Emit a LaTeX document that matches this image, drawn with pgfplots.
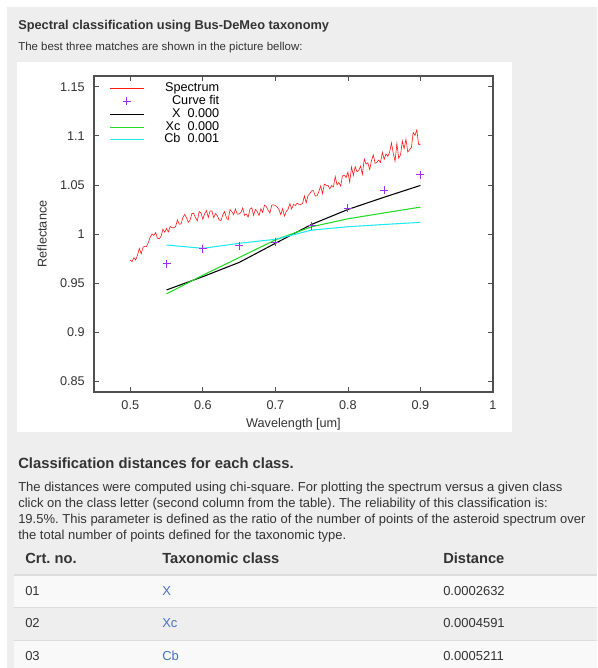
\documentclass[border=0pt]{standalone}
\usepackage{fontspec}
\setmainfont{Liberation Sans}
\usepackage{pgfplots}
\pgfplotsset{compat=1.18}
\frenchspacing
\definecolor{panel}{HTML}{EEEEEE}
\definecolor{txt}{HTML}{333333}
\definecolor{lnk}{HTML}{4A72C0}
\definecolor{rowlight}{HTML}{F9F9F9}
\definecolor{rulec}{HTML}{DDDDDD}
\definecolor{specc}{HTML}{FF1A1A}
\definecolor{fitc}{HTML}{9B30F0}
\definecolor{xcg}{HTML}{22DD22}
\definecolor{cbc}{HTML}{22E8F0}
\definecolor{framec}{HTML}{505050}

\pgfplotstableread{
x y
0.5000 0.9733
0.5025 0.9719
0.5050 0.9759
0.5075 0.9734
0.5100 0.9786
0.5125 0.9853
0.5150 0.9797
0.5175 0.9865
0.5200 0.9876
0.5225 0.9873
0.5250 0.9916
0.5275 0.9969
0.5300 1.0000
0.5325 0.9986
0.5350 1.0015
0.5375 0.9956
0.5400 0.9952
0.5425 0.9978
0.5450 1.0049
0.5475 1.0019
0.5500 1.0057
0.5525 1.0022
0.5550 1.0077
0.5575 1.0064
0.5600 1.0063
0.5625 1.0076
0.5650 1.0144
0.5675 1.0101
0.5700 1.0102
0.5725 1.0168
0.5750 1.0200
0.5775 1.0166
0.5800 1.0120
0.5825 1.0142
0.5850 1.0209
0.5875 1.0209
0.5900 1.0164
0.5925 1.0136
0.5950 1.0230
0.5975 1.0213
0.6000 1.0151
0.6025 1.0206
0.6050 1.0238
0.6075 1.0169
0.6100 1.0235
0.6125 1.0234
0.6150 1.0166
0.6175 1.0209
0.6200 1.0186
0.6225 1.0144
0.6250 1.0135
0.6275 1.0193
0.6300 1.0229
0.6325 1.0165
0.6350 1.0145
0.6375 1.0248
0.6400 1.0228
0.6425 1.0197
0.6450 1.0255
0.6475 1.0202
0.6500 1.0204
0.6525 1.0219
0.6550 1.0265
0.6575 1.0190
0.6600 1.0203
0.6625 1.0173
0.6650 1.0253
0.6675 1.0267
0.6700 1.0191
0.6725 1.0250
0.6750 1.0229
0.6775 1.0188
0.6800 1.0257
0.6825 1.0220
0.6850 1.0294
0.6875 1.0280
0.6900 1.0242
0.6925 1.0213
0.6950 1.0294
0.6975 1.0298
0.7000 1.0290
0.7025 1.0274
0.7050 1.0247
0.7075 1.0197
0.7100 1.0259
0.7125 1.0183
0.7150 1.0228
0.7175 1.0252
0.7200 1.0309
0.7225 1.0255
0.7250 1.0301
0.7275 1.0291
0.7300 1.0314
0.7325 1.0302
0.7350 1.0301
0.7375 1.0311
0.7400 1.0388
0.7425 1.0318
0.7450 1.0392
0.7475 1.0411
0.7500 1.0440
0.7525 1.0442
0.7550 1.0387
0.7575 1.0389
0.7600 1.0434
0.7625 1.0489
0.7650 1.0410
0.7675 1.0509
0.7700 1.0497
0.7725 1.0496
0.7750 1.0461
0.7775 1.0493
0.7800 1.0480
0.7825 1.0586
0.7850 1.0500
0.7875 1.0526
0.7900 1.0488
0.7925 1.0592
0.7950 1.0599
0.7975 1.0575
0.8000 1.0630
0.8025 1.0528
0.8050 1.0682
0.8075 1.0596
0.8100 1.0686
0.8125 1.0635
0.8150 1.0647
0.8175 1.0692
0.8200 1.0608
0.8225 1.0765
0.8250 1.0713
0.8275 1.0726
0.8300 1.0658
0.8325 1.0748
0.8350 1.0806
0.8375 1.0720
0.8400 1.0730
0.8425 1.0754
0.8450 1.0729
0.8475 1.0833
0.8500 1.0760
0.8525 1.0816
0.8550 1.0791
0.8575 1.0831
0.8600 1.0929
0.8625 1.0824
0.8650 1.0741
0.8675 1.0922
0.8700 1.0773
0.8725 1.0805
0.8750 1.0947
0.8775 1.0869
0.8800 1.0967
0.8825 1.0836
0.8850 1.0858
0.8875 1.0881
0.8900 1.1035
0.8925 1.1004
0.8950 1.1061
0.8975 1.0911
0.9000 1.0915
}\spectrum

\begin{document}
\begin{tikzpicture}
\begin{scope}[x=0.75pt,y=-0.75pt]
\fill[white] (0,0) rectangle (597,668);
\fill[panel] (7,7) rectangle (597,668);
\fill[white] (17,62) rectangle (512,432);
\fill[rowlight] (14,575) rectangle (597,607);
\fill[rowlight] (14,640) rectangle (597,668);
\draw[rulec, line width=1.5pt] (14,575) -- (597,575);
\draw[rulec, line width=0.75pt] (14,607) -- (597,607);
\draw[rulec, line width=0.75pt] (14,640) -- (597,640);
\end{scope}

\begin{axis}[
  width=299.25pt, height=237pt, scale only axis,
  at={(70.5pt,-57pt)}, anchor=north west,
  xmin=0.45, xmax=1.0, ymin=0.839, ymax=1.161,
  xtick={0.5,0.6,0.7,0.8,0.9,1},
  xticklabels={0.5,0.6,0.7,0.8,0.9,1},
  ytick={0.85,0.9,0.95,1,1.05,1.1,1.15},
  yticklabels={0.85,0.9,0.95,1,1.05,1.1,1.15},
  tick align=inside, xtick pos=both, ytick pos=both,
  major tick length=3.75pt,
  axis line style={framec, line width=0.8pt},
  tick style={framec, line width=0.6pt},
  ticklabel style={font=\fontsize{9.5pt}{11pt}\selectfont, text=txt, inner sep=0pt},
  yticklabel style={anchor=east, xshift=-6.75pt},
  xticklabel style={anchor=north, yshift=-6.2pt},
  xlabel={Wavelength [um]}, ylabel={Reflectance},
  label style={font=\fontsize{9.5pt}{11pt}\selectfont, text=txt},
  xlabel style={at={(axis description cs:0.5,-0.1013)}, anchor=center},
  ylabel style={at={(axis description cs:-0.1303,0.5)}, anchor=center, rotate=0},
  legend cell align=right,
  legend image code/.code={\draw[mark repeat=2,mark phase=2,#1] plot coordinates {(0pt,0pt) (12.75pt,0pt) (25.5pt,0pt)};},
  legend style={draw=none, fill=none, at={(axis description cs:0.0376,0.9805)}, anchor=north west,
    inner sep=0pt, row sep=0.25pt, font=\fontsize{9.5pt}{11pt}\selectfont,
    nodes={inner sep=0pt, text height=6.9pt, text depth=2.45pt},
    /tikz/every odd column/.append style={column sep=15pt}},
]
\addplot[color=specc, line width=0.45pt] table[x=x, y=y] {\spectrum};
\addlegendentry{Spectrum}
\addplot[only marks, mark=+, mark size=3pt, color=fitc, mark options={line width=0.7pt}] coordinates {
(0.55,0.9695) (0.60,0.9850) (0.65,0.9880) (0.70,0.9916) (0.75,1.0085) (0.80,1.0260) (0.85,1.0447) (0.90,1.0603)};
\addlegendentry{Curve fit}
\addplot[color=black, line width=0.8pt] coordinates {
(0.55,0.9430) (0.60,0.9565) (0.65,0.9710) (0.70,0.9905) (0.75,1.0098) (0.80,1.0250) (0.85,1.0375) (0.90,1.0495)};
\addlegendentry{X\ \ 0.000}
\addplot[color=xcg, line width=0.8pt] coordinates {
(0.55,0.9390) (0.60,0.9580) (0.65,0.9760) (0.70,0.9940) (0.75,1.0074) (0.80,1.0155) (0.85,1.0215) (0.90,1.0274)};
\addlegendentry{Xc\ \ 0.000}
\addplot[color=cbc, line width=0.8pt] coordinates {
(0.55,0.9888) (0.60,0.9854) (0.65,0.9905) (0.70,0.9946) (0.75,1.0040) (0.80,1.0074) (0.85,1.0097) (0.90,1.0119)};
\addlegendentry{Cb\ \ 0.001}
\end{axis}

\begin{scope}[x=0.75pt,y=-0.75pt, every node/.style={inner sep=0pt, anchor=base west, text=txt}]
\node[font=\fontsize{9.6pt}{12pt}\selectfont\bfseries] at (18,29.5) {Spectral classification using Bus-DeMeo taxonomy};
\node[font=\fontsize{8.6pt}{10pt}\selectfont] at (18,50) {The best three matches are shown in the picture bellow:};
\node[font=\fontsize{11.1pt}{13pt}\selectfont\bfseries] at (18,468) {Classification distances for each class.};
\node[font=\fontsize{9.75pt}{12pt}\selectfont] at (18,491.5) {The distances were computed using chi-square. For plotting the spectrum versus a given class};
\node[font=\fontsize{9.75pt}{12pt}\selectfont] at (18,507.5) {click on the class letter (second column from the table). The reliability of this classification is:};
\node[font=\fontsize{9.75pt}{12pt}\selectfont] at (18,523.5) {19.5\%. This parameter is defined as the ratio of the number of points of the asteroid spectrum over};
\node[font=\fontsize{9.75pt}{12pt}\selectfont] at (18,539.5) {the total number of points defined for the taxonomic type.};
\node[font=\fontsize{11pt}{13pt}\selectfont\bfseries] at (25,563) {Crt. no.};
\node[font=\fontsize{11pt}{13pt}\selectfont\bfseries] at (162,563) {Taxonomic class};
\node[font=\fontsize{11pt}{13pt}\selectfont\bfseries] at (443,563) {Distance};
\node[font=\fontsize{9.75pt}{12pt}\selectfont] at (25,595) {01};
\node[font=\fontsize{9.75pt}{12pt}\selectfont, text=lnk] at (162,595) {X};
\node[font=\fontsize{9.75pt}{12pt}\selectfont] at (443,595) {0.0002632};
\node[font=\fontsize{9.75pt}{12pt}\selectfont] at (25,627) {02};
\node[font=\fontsize{9.75pt}{12pt}\selectfont, text=lnk] at (162,627) {Xc};
\node[font=\fontsize{9.75pt}{12pt}\selectfont] at (443,627) {0.0004591};
\node[font=\fontsize{9.75pt}{12pt}\selectfont] at (25,660) {03};
\node[font=\fontsize{9.75pt}{12pt}\selectfont, text=lnk] at (162,660) {Cb};
\node[font=\fontsize{9.75pt}{12pt}\selectfont] at (443,660) {0.0005211};
\end{scope}
\pgfresetboundingbox
\useasboundingbox (0,0) rectangle (447.75pt,-501pt);
\end{tikzpicture}
\end{document}
